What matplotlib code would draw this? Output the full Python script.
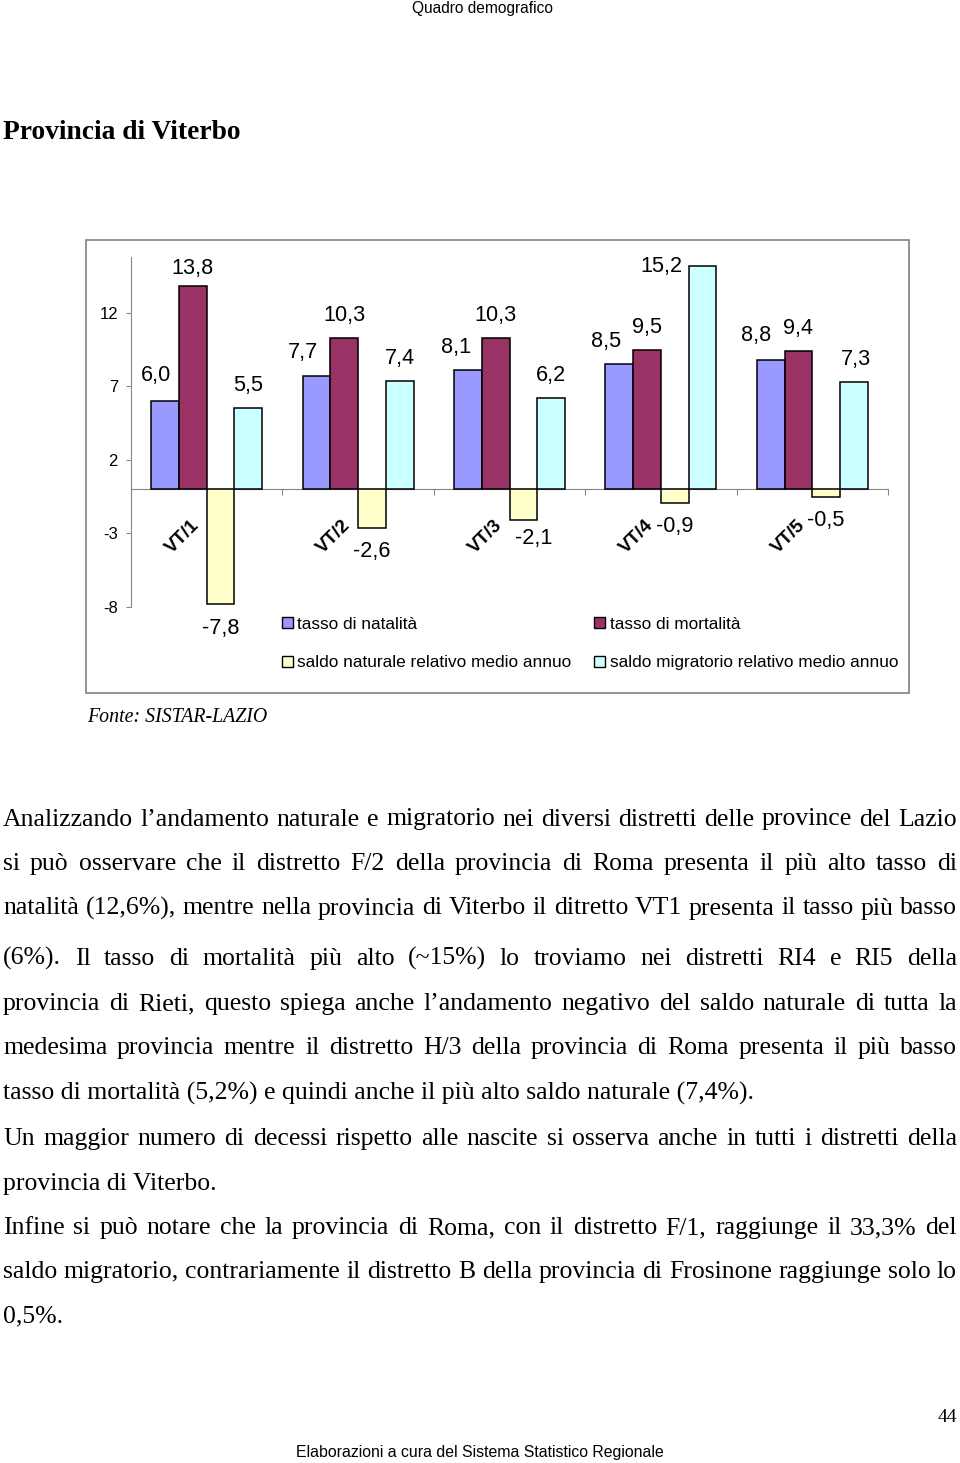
import matplotlib
matplotlib.use('Agg')
import numpy as np
import matplotlib.pyplot as plt
from matplotlib.patches import Rectangle, Patch

W, H = 960, 1463

# ---- data ----
categories = ['VT/1', 'VT/2', 'VT/3', 'VT/4', 'VT/5']
natalita = [6.0, 7.7, 8.1, 8.5, 8.8]
mortalita = [13.8, 10.3, 10.3, 9.5, 9.4]
saldo_naturale = [-7.8, -2.6, -2.1, -0.9, -0.5]
saldo_migratorio = [5.5, 7.4, 6.2, 15.2, 7.3]
series_names = ['tasso di natalità', 'tasso di mortalità',
                'saldo naturale relativo medio annuo',
                'saldo migratorio relativo medio annuo']
y_ticks = [-8, -3, 2, 7, 12]

header = 'Quadro demografico'
title = 'Provincia di Viterbo'
source = 'Fonte: SISTAR-LAZIO'
footer = 'Elaborazioni a cura del Sistema Statistico Regionale'
page_no = '44'

# (line text, justified?)
body_lines = [
    ('Analizzando l’andamento naturale e migratorio nei diversi distretti delle province del Lazio', True),
    ('si può osservare che il distretto F/2 della provincia di Roma presenta il più alto tasso di', True),
    ('natalità (12,6%), mentre nella provincia di Viterbo il ditretto VT1 presenta il tasso più basso', True),
    ('(6%).  Il tasso di mortalità più alto (~15%) lo troviamo nei distretti RI4 e RI5 della', True),
    ('provincia di Rieti, questo spiega anche l’andamento negativo del saldo naturale di tutta la', True),
    ('medesima provincia mentre il distretto H/3 della provincia di Roma presenta il più basso', True),
    ('tasso di mortalità (5,2%) e quindi anche il più alto saldo naturale (7,4%).', False),
    ('Un maggior numero di decessi rispetto alle nascite si osserva anche in tutti i distretti della', True),
    ('provincia di Viterbo.', False),
    ('Infine si può notare che la provincia di Roma, con il distretto F/1, raggiunge il 33,3% del', True),
    ('saldo migratorio, contrariamente il distretto B della provincia di Frosinone raggiunge solo lo', True),
    ('0,5%.', False),
]

# ---- layout / style ----
colors = ['#9999FF', '#993366', '#FFFFCC', '#CCFFFF']
SANS = 'Liberation Sans'
SERIF = 'Liberation Serif'
body_baselines = [825.5, 870, 914.5, 965, 1010, 1054, 1100, 1145, 1190, 1234, 1278, 1322]
# manual label nudges in pixels (series, category): (dx, dy), dy positive = up
label_nudge = {
    (0, 0): (-9, 3), (0, 1): (-14, 1), (0, 2): (-12, 0), (0, 3): (-13, 0), (0, 4): (-15, 2),
    (1, 0): (0, -5),
    (2, 2): (10, 6),
    (3, 3): (-41, -23), (3, 4): (2, 0),
}


def fx(x):
    return x / W


def fy(y):
    return 1 - y / H


fig = plt.figure(figsize=(W / 100, H / 100), dpi=100)

# page texts
fig.text(fx(482), fy(12.5), header, family=SANS, fontsize=11.2, ha='center', va='baseline')
fig.text(fx(3), fy(139), title, family=SERIF, fontsize=19.8, weight='bold', ha='left', va='baseline')
fig.text(fx(87), fy(721.5), source, family=SERIF, fontsize=14.3, style='italic', ha='left', va='baseline')
fig.text(fx(957), fy(1422), page_no, family=SERIF, fontsize=14, ha='right', va='baseline')
fig.text(fx(480), fy(1457.5), footer, family=SANS, fontsize=11.4, ha='center', va='baseline')

# chart frame
fig.add_artist(Rectangle((fx(86), fy(693)), (909 - 86) / W, (693 - 240) / H,
                         transform=fig.transFigure, fill=False, ec='#808080', lw=1.2))

# chart
ax = fig.add_axes([fx(131), fy(607), 757 / W, 350 / H])
series = [natalita, mortalita, saldo_naturale, saldo_migratorio]
x = np.arange(len(categories))
bw = 0.183
for s, vals in enumerate(series):
    pos = x + (s - 1.5) * bw
    ax.bar(pos, vals, width=bw, color=colors[s], edgecolor='black', linewidth=1.1, zorder=3)
    for c, v in enumerate(vals):
        dx, dy = label_nudge.get((s, c), (0, 0))
        off = 22.5 if v >= 0 else -24
        ax.annotate(f'{v:.1f}'.replace('.', ','), xy=(pos[c], v),
                    xytext=(dx * 0.72, (off + dy) * 0.72), textcoords='offset points',
                    ha='center', va='center', fontsize=15.6, family=SANS)

for c, name in enumerate(categories):
    ax.annotate(name, xy=(c, 0), xytext=(-24 * 0.72, -47 * 0.72), textcoords='offset points',
                ha='center', va='center', rotation=45, fontsize=13.5, weight='bold', family=SANS)

ax.set_xlim(-0.5, 4.5)
ax.set_ylim(-8, 15.8)
ax.set_yticks(y_ticks)
ax.set_yticklabels([str(t) for t in y_ticks], family=SANS, fontsize=12)
ax.set_xticks(np.arange(-0.5, 5, 1))
ax.set_xticklabels([])
for side in ['top', 'right']:
    ax.spines[side].set_visible(False)
ax.spines['bottom'].set_position(('data', 0))
for side in ['left', 'bottom']:
    ax.spines[side].set_color('#868686')
    ax.spines[side].set_linewidth(0.8)
ax.tick_params(axis='y', direction='out', length=3.6, color='#868686', pad=5.8)
ax.tick_params(axis='x', direction='out', length=4.5, color='#868686')
ax.patch.set_visible(False)

handles = [Patch(facecolor=colors[i], edgecolor='black', linewidth=1) for i in range(4)]
order = [0, 2, 1, 3]
fig.legend([handles[i] for i in order], [series_names[i] for i in order],
           ncol=2, loc='center', bbox_to_anchor=(fx(590), fy(643.5)),
           frameon=False, prop={'family': SANS, 'size': 12.4},
           handlelength=0.65, handleheight=0.65, handletextpad=0.25,
           columnspacing=1.3, labelspacing=1.38, borderpad=0)

# body text, justified like the page
renderer = fig.canvas.get_renderer()
left, right = 3, 957
BODY = 18.5
for (line, justify), base in zip(body_lines, body_baselines):
    if not justify:
        fig.text(fx(left), fy(base), line, family=SERIF, fontsize=BODY, va='baseline')
        continue
    words = line.split()
    objs = [fig.text(0, fy(base), w, family=SERIF, fontsize=BODY, va='baseline') for w in words]
    widths = [o.get_window_extent(renderer).width for o in objs]
    gap = (right - left - sum(widths)) / (len(words) - 1)
    xpos = left
    for o, w in zip(objs, widths):
        o.set_x(fx(xpos))
        xpos += w + gap

fig.savefig('out.png', dpi=100)
